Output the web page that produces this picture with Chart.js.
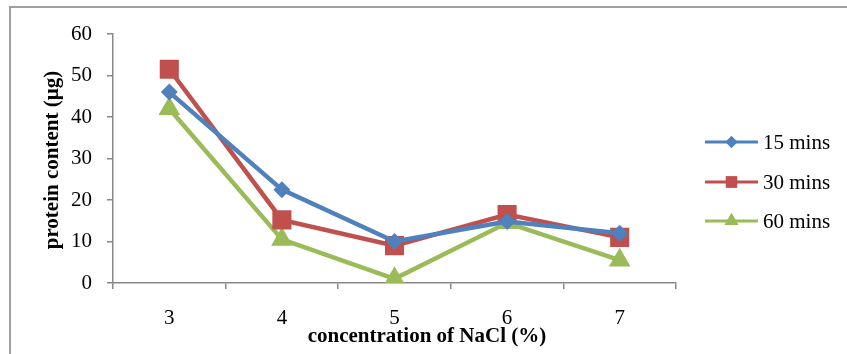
<!DOCTYPE html>
<html>
<head>
<meta charset="utf-8">
<script src="https://cdn.jsdelivr.net/npm/chart.js@4"></script>
<style>
  html, body { margin:0; padding:0; background:#fff; }
  #wrap { position:relative; width:847px; height:354px; }
  #frame { position:absolute; left:9px; top:6px; width:900px; height:400px; border-left:2px solid #a0a0a0; border-top:2px solid #a0a0a0; }
  canvas { position:absolute; left:0; top:0; }
</style>
</head>
<body>
<div id="wrap">
  <div id="frame"></div>
  <canvas id="chart" width="847" height="354"></canvas>
</div>
<script>
const categories = ['3', '4', '5', '6', '7'];
const seriesNames = ['15 mins', '30 mins', '60 mins'];
const mins15 = [46, 22.5, 10, 14.8, 12];
const mins30 = [51.5, 15.2, 9, 16.5, 11];
const mins60 = [42, 10.5, 1, 14.5, 5.5];
const yTicks = [0, 10, 20, 30, 40, 50, 60];

const colors = ['#4F81BD', '#C0504D', '#9BBB59'];
const styles = ['rectRot', 'rect', 'triangle'];
const radii = [8.5, 13.5, 12.5];
const serif = '"Liberation Serif", "Times New Roman", serif';
const grey = '#898989';

const ds = (i, data)=>({
  label: seriesNames[i], data,
  borderColor: colors[i], backgroundColor: colors[i],
  borderWidth: 4.5, pointStyle: styles[i], pointRadius: radii[i],
  pointBorderWidth: 0, pointBackgroundColor: colors[i], tension: 0
});

// titles and legend, drawn at fixed spots like the original
const extras = {
  id: 'extras',
  afterDraw(chart){
    const c = chart.ctx;
    c.save();
    c.fillStyle = '#000';
    c.font = 'bold 21px ' + serif;
    c.textAlign = 'center'; c.textBaseline = 'middle';
    c.fillText('concentration of NaCl (%)', 427, 337);
    c.translate(53, 160); c.rotate(-Math.PI/2);
    c.fillText('protein content (\u00b5g)', 0, 0);
    c.restore();

    const rows = [142, 182, 221];
    const lr = [6, 8, 8];
    chart.data.datasets.forEach((d, i)=>{
      const y = rows[i];
      c.save();
      c.strokeStyle = colors[i]; c.lineWidth = 3;
      c.beginPath(); c.moveTo(705, y); c.lineTo(758, y); c.stroke();
      c.fillStyle = colors[i];
      Chart.helpers.drawPoint(c, {pointStyle: styles[i], radius: lr[i], rotation: 0, borderWidth: 0}, 731.5, y);
      c.fill();
      c.fillStyle = '#000';
      c.font = '21px ' + serif;
      c.textAlign = 'left'; c.textBaseline = 'middle';
      c.fillText(d.label, 763, y + 1);
      c.restore();
    });
  }
};

new Chart(document.getElementById('chart'), {
  type: 'line',
  data: { labels: categories, datasets: [ds(0, mins15), ds(1, mins30), ds(2, mins60)] },
  options: {
    responsive: false, animation: false,
    layout: { padding: { left: 0, right: 171, top: 34, bottom: 0 } },
    plugins: { legend: { display: false }, tooltip: { enabled: false } },
    scales: {
      x: {
        type: 'category', offset: true,
        grid: { offset: true, drawOnChartArea: false, drawTicks: true, tickLength: 6, color: grey, lineWidth: 1.5 },
        border: { color: grey, width: 1.5 },
        ticks: { color: '#000', font: { family: serif, size: 21 }, padding: 17, maxRotation: 0 },
        afterFit: (s)=>{ s.height = 71; }
      },
      y: {
        min: 0, max: 60,
        afterBuildTicks: (s)=>{ s.ticks = yTicks.map(v=>({value: v})); },
        grid: { drawOnChartArea: false, drawTicks: true, tickLength: 6, color: grey, lineWidth: 1.5 },
        border: { color: grey, width: 1.5 },
        ticks: { color: '#000', font: { family: serif, size: 21 }, padding: 15 },
        afterFit: (s)=>{ s.width = 113; }
      }
    }
  },
  plugins: [extras]
});
</script>
</body>
</html>
